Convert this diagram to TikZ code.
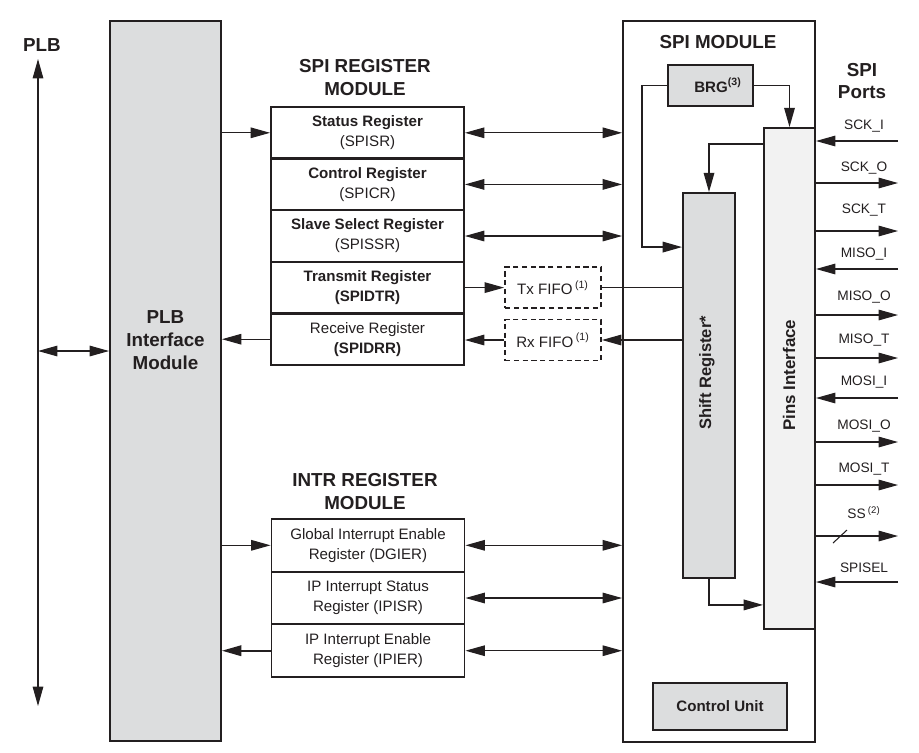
\documentclass[tikz,border=0pt]{standalone}
\usepackage{fontspec}
\setmainfont{Liberation Sans}
\usepackage{xcolor}
\usetikzlibrary{arrows.meta,calc}
\definecolor{blockgray}{RGB}{220,221,222}
\definecolor{pinsgray}{RGB}{242,242,242}
\definecolor{inkblack}{RGB}{35,31,32}
\tikzset{
	box/.style={draw, line width=1.1pt, inner sep=0pt, align=center},
	regbox/.style={box, minimum width=3.86cm, minimum height=1.04cm,
			font=\fontsize{8.6}{11.3}\selectfont},
	intrbox/.style={regbox, minimum height=1.053cm},
	fifobox/.style={draw, dash pattern=on 3pt off 2pt, line width=1.1pt, minimum width=1.92cm,
			minimum height=0.82cm, font=\fontsize{8.6}{10}\selectfont},
	graybox/.style={box, fill=blockgray},
	title/.style={align=center, font=\bfseries\fontsize{10.7}{13}\selectfont},
	portlabel/.style={font=\fontsize{7.8}{9}\selectfont}
}

\begin{document}
\begin{tikzpicture}[x=0.02cm, y=-0.02cm, line width=0.6pt, color=inkblack,
		>={Triangle[length=11pt,width=6pt]}]
	\useasboundingbox (0,0) rectangle (919,752);
	% PLB bus and interface
	\node[title] (plblbl) at (42,45) {PLB};
	\coordinate (bustop) at (38,59);
	\coordinate (busbot) at (38,706);
	\coordinate (busmid) at (38,351);
	\node[graybox, minimum width=2.22cm, minimum height=14.4cm] (plb) at (165.5,381) {};
	\node[title] (plbtxt) at (165.5,340) {PLB\\Interface\\Module};
	\draw[<->] (bustop) -- (busbot);
	\draw[<->] (busmid) -- (busmid -| plb.west);

	% SPI register module
	\node[title] (sprtitle) at (365,77.5) {SPI REGISTER\\MODULE};
	\node[regbox] (spisr) at (367.5,132.8) {\textbf{Status Register}\\(SPISR)};
	\node[regbox] (spicr) at (367.5,184.4) {\textbf{Control Register}\\(SPICR)};
	\node[regbox] (spissr) at (367.5,236) {\textbf{Slave Select Register}\\(SPISSR)};
	\node[regbox] (spidtr) at (367.5,287.6) {\textbf{Transmit Register}\\\textbf{(SPIDTR)}};
	\node[regbox] (spidrr) at (367.5,339.2) {Receive Register\\\textbf{(SPIDRR)}};
	\node[fifobox] (txfifo) at (553,287.6) {Tx FIFO\,\textsuperscript{(1)}};
	\node[fifobox] (rxfifo) at (553,340) {Rx FIFO\,\textsuperscript{(1)}};

	% INTR register module
	\node[title] (intrtitle) at (365,491.5) {INTR REGISTER\\MODULE};
	\node[intrbox] (dgier) at (368,545.3) {Global Interrupt Enable\\Register (DGIER)};
	\node[intrbox] (ipisr) at (368,598) {IP Interrupt Status\\Register (IPISR)};
	\node[intrbox] (ipier) at (368,650.7) {IP Interrupt Enable\\Register (IPIER)};

	% SPI module
	\node[box, minimum width=3.84cm, minimum height=14.42cm] (spi) at (719,381.5) {};
	\node[title] (spititle) at (718,42) {SPI MODULE};
	\node[graybox, minimum width=1.7cm, minimum height=0.82cm,
		font=\bfseries\fontsize{8.6}{10}\selectfont] (brg) at (710.5,85.5) {\hspace*{0.3cm}BRG\textsuperscript{(3)}};
	\node[box, fill=pinsgray, minimum width=1.02cm, minimum height=10.02cm] (pins) at (789.5,378.5) {};
	\node[rotate=90, font=\bfseries\fontsize{9.6}{11}\selectfont] (pinstxt) at (789,375) {Pins Interface};
	\node[graybox, minimum width=1.04cm, minimum height=7.7cm] (shift) at (709,385.5) {};
	\node[rotate=90, font=\bfseries\fontsize{9.4}{11}\selectfont] (shifttxt) at (707,373) {Shift Register*};
	\node[graybox, minimum width=2.68cm, minimum height=0.94cm,
		font=\bfseries\fontsize{8.6}{10}\selectfont] (ctrl) at (720,706.5) {Control Unit};
	\node[title] (portstitle) at (862,81) {SPI\\Ports};

	% register connections
	\draw[->] (plb.east |- spisr) -- (spisr.west);
	\draw[->] (spidrr.west) -- (spidrr.west -| plb.east);
	\foreach \r in {spisr,spicr,spissr}
	\draw[<->] (\r.east) -- (\r.east -| spi.west);
	\draw[->] (spidtr.east) -- (spidtr.east -| txfifo.west);
	\draw (txfifo.east) -- (txfifo.east -| shift.west);
	\draw[->] (shift.west |- rxfifo) -- (rxfifo.east);
	\draw[->] (rxfifo.west) -- (rxfifo.west -| spidrr.east);
	\draw[->] (plb.east |- dgier) -- (dgier.west);
	\draw[->, line width=1pt] (ipier.west) -- (ipier.west -| plb.east);
	\foreach \r in {dgier,ipisr,ipier}
	\draw[<->] (\r.east) -- (\r.east -| spi.west);

	% inside the SPI module
	\draw[->, line width=0.9pt] (brg.west) -- ++(-25,0) |- ([yshift=-1.1cm]shift.north west);
	\draw[->, line width=0.9pt] (brg.east) -| (pins.north);
	\draw[->, line width=0.9pt] ([yshift=-0.34cm]pins.north west) -| (shift.north);
	\draw[->, line width=0.9pt] (shift.south) |- ([yshift=0.5cm]pins.south west);

	% SPI ports
	\foreach \name/\y/\ly in {SCK\_I/141/126, MISO\_I/269/254, MOSI\_I/398/382, SPISEL/582/568}{
		\coordinate (port\y) at (898,\y);
		\node[portlabel] (lbl\y) at (864,\ly) {\name};
		\draw[->] (port\y) -- (port\y -| pins.east);
	}
	\foreach \name/\y/\ly in {SCK\_O/183/168, SCK\_T/231/210, MISO\_O/315/297,
			MISO\_T/358/340, MOSI\_O/442/426, MOSI\_T/485/469}{
		\coordinate (port\y) at (898,\y);
		\node[portlabel] (lbl\y) at (864,\ly) {\name};
		\draw[->] (port\y -| pins.east) -- (port\y);
	}
	\coordinate (portss) at (898,536);
	\node[portlabel] (lblss) at (864,513) {SS\,\textsuperscript{(2)}};
	\draw[->] (portss -| pins.east) -- (portss);
	\draw ($(portss)+(-65,7)$) -- ++(14,-13);
\end{tikzpicture}
\end{document}
